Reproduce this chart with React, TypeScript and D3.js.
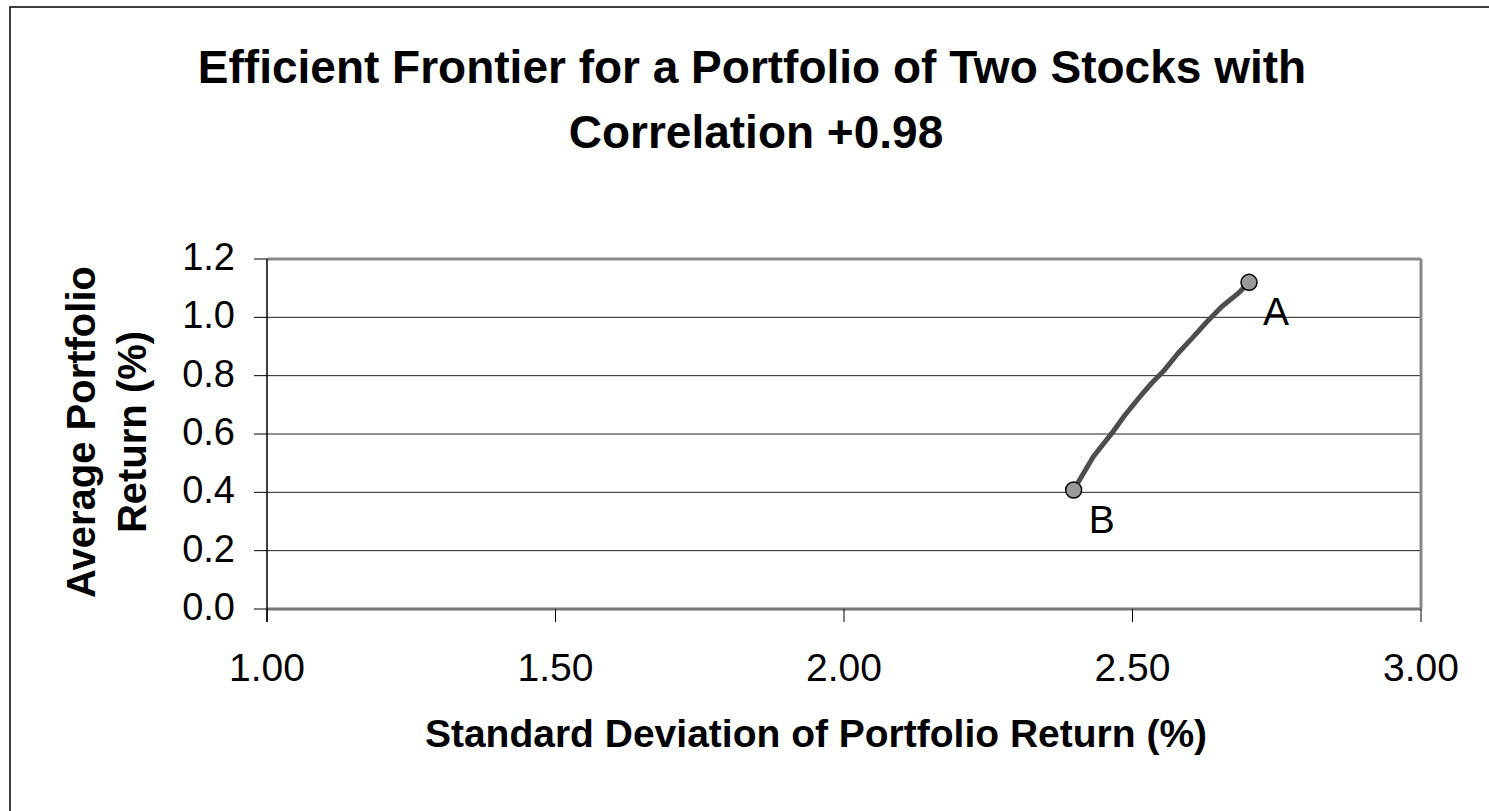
import React from "react";
import * as d3 from "d3";

// frontier points (B at the bottom, A at the top)
const stdDevs = [2.398, 2.432, 2.464, 2.487, 2.513, 2.533, 2.553, 2.579, 2.603, 2.629, 2.655, 2.683, 2.702];
const returns = [0.408, 0.522, 0.602, 0.665, 0.728, 0.774, 0.814, 0.877, 0.928, 0.985, 1.037, 1.082, 1.12];

const endPoints = [
  { name: "A", sd: 2.702, ret: 1.12 },
  { name: "B", sd: 2.398, ret: 0.408 },
];

const xTicks = [1.0, 1.5, 2.0, 2.5, 3.0];
const yTicks = [0.0, 0.2, 0.4, 0.6, 0.8, 1.0, 1.2];

const W = 1489;
const H = 811;
const FONT = "'Liberation Sans', Arial, Helvetica, sans-serif";

const PLOT = { left: 267, right: 1421, top: 259, bottom: 609 };

export default function App() {
  const x = d3.scaleLinear().domain([1, 3]).range([PLOT.left, PLOT.right]);
  const y = d3.scaleLinear().domain([0, 1.2]).range([PLOT.bottom, PLOT.top]);

  const pts = stdDevs.map((s, i) => [s, returns[i]] as [number, number]);
  const line = d3
    .line<[number, number]>()
    .x((d) => x(d[0]))
    .y((d) => y(d[1]));

  return (
    <svg
      width={W}
      height={H}
      style={{ position: "absolute", left: 0, top: 0, background: "#fff" }}
      fontFamily={FONT}
    >
      <rect x={0} y={0} width={W} height={H} fill="#fff" />
      {/* chart frame, only left and top show */}
      <rect x={10} y={7} width={W + 100} height={H + 100} fill="none" stroke="#000" strokeWidth={1.5} />

      {/* title */}
      <text x={752} y={83} textAnchor="middle" fontSize={46} fontWeight="bold">
        Efficient Frontier for a Portfolio of Two Stocks with
      </text>
      <text x={756} y={148} textAnchor="middle" fontSize={46} fontWeight="bold">
        Correlation +0.98
      </text>

      {/* gridlines */}
      {yTicks.slice(1, -1).map((t) => (
        <line key={t} x1={PLOT.left} x2={PLOT.right} y1={y(t)} y2={y(t)} stroke="#222" strokeWidth={1} />
      ))}
      {/* plot border top/right */}
      <line x1={PLOT.left} x2={PLOT.right} y1={PLOT.top} y2={PLOT.top} stroke="#888" strokeWidth={3} />
      <line x1={PLOT.right} x2={PLOT.right} y1={PLOT.top} y2={PLOT.bottom} stroke="#888" strokeWidth={3} />
      {/* x axis */}
      <line x1={PLOT.left} x2={PLOT.right} y1={PLOT.bottom} y2={PLOT.bottom} stroke="#777" strokeWidth={3} />
      {xTicks.map((t) => (
        <g key={t}>
          <line x1={x(t)} x2={x(t)} y1={PLOT.bottom} y2={PLOT.bottom + 13} stroke="#000" strokeWidth={1} />
          <text x={x(t)} y={681} textAnchor="middle" fontSize={39}>
            {d3.format(".2f")(t)}
          </text>
        </g>
      ))}
      {/* y axis */}
      <line x1={PLOT.left} x2={PLOT.left} y1={PLOT.top} y2={PLOT.bottom + 13} stroke="#000" strokeWidth={1.5} />
      {yTicks.map((t) => (
        <g key={t}>
          <line x1={PLOT.left - 13} x2={PLOT.left} y1={y(t)} y2={y(t)} stroke="#000" strokeWidth={1} />
          <text x={235} y={y(t) + 11} textAnchor="end" fontSize={38}>
            {d3.format(".1f")(t)}
          </text>
        </g>
      ))}

      {/* frontier */}
      <path d={line(pts) || ""} fill="none" stroke="#4d4d4d" strokeWidth={5} strokeLinejoin="round" strokeLinecap="round" />
      {endPoints.map((p) => (
        <circle key={p.name} cx={x(p.sd)} cy={y(p.ret)} r={8} fill="#999" stroke="#000" strokeWidth={1.5} />
      ))}
      {endPoints.map((p) => (
        <text
          key={"l" + p.name}
          x={x(p.sd) + (p.name === "A" ? 14 : 15)}
          y={y(p.ret) + (p.name === "A" ? 43 : 43)}
          fontSize={39}
        >
          {p.name}
        </text>
      ))}

      {/* axis titles */}
      <text x={816} y={747} textAnchor="middle" fontSize={39} fontWeight="bold">
        Standard Deviation of Portfolio Return (%)
      </text>
      <g transform="translate(95, 432) rotate(-90)">
        <text x={0} y={0} textAnchor="middle" fontSize={40} fontWeight="bold">
          Average Portfolio
        </text>
        <text x={0} y={51} textAnchor="middle" fontSize={40} fontWeight="bold">
          Return (%)
        </text>
      </g>
    </svg>
  );
}
